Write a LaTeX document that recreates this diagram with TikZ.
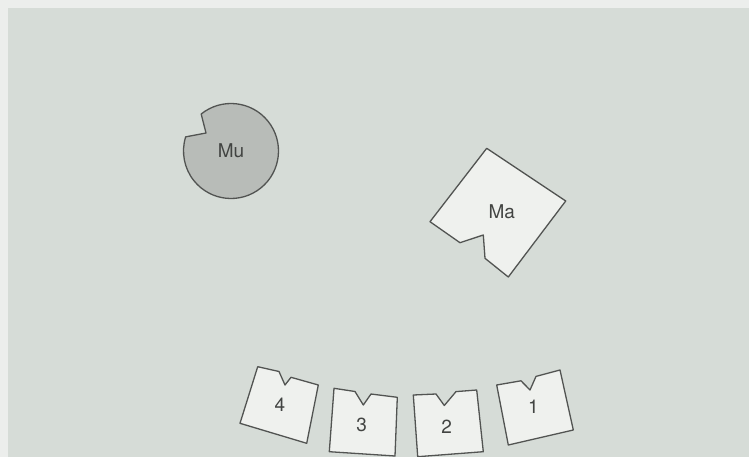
\documentclass[tikz,border=0pt]{standalone}
\usepackage{fontspec}
\setmainfont{TeX Gyre Heros}
\definecolor{bgc}{RGB}{214,220,215}
\definecolor{rimc}{RGB}{236,238,236}
\definecolor{cardc}{RGB}{239,241,238}
\definecolor{muc}{RGB}{184,188,184}
\definecolor{edgec}{RGB}{82,84,82}
\definecolor{txtc}{RGB}{66,68,66}
\begin{document}
\begin{tikzpicture}[x=1pt,y=-1pt,
  piece/.style={draw=edgec, line width=1.3pt, fill=cardc, line join=round},
  lbl/.style={font=\fontsize{19}{19}\selectfont, text=txtc, inner sep=0pt}]
\useasboundingbox (0,0) rectangle (749,457);
\fill[rimc] (0,0) rectangle (749,457);
\fill[bgc] (8,8) rectangle (749,457);
% Mu
\draw[piece, fill=muc] ([shift={(231,151)}]231.1:47.5) arc[start angle=231.1, end angle=557.3, radius=47.5] -- (206,133) -- cycle;
\node[lbl] (mu) at (231,151) {Mu};
% Ma
\draw[piece] (486.7,148.3) -- (565.7,201) -- (508.3,277) -- (485,258.3) -- (483.3,235) -- (460,242.7) -- (430,221.7) -- cycle;
\node[lbl] (ma) at (501.7,211.7) {Ma};
% cards
\draw[piece] (257.7,366.7) -- (279,371.5) -- (285,385) -- (291,377.3) -- (318.3,385) -- (306.7,443.3) -- (240,423.3) -- cycle;
\node[lbl] (c4) at (280,405) {4};
\draw[piece] (334,388.3) -- (355,391.5) -- (363.3,405) -- (371,394) -- (397.3,397.3) -- (395,456) -- (329.3,451.7) -- cycle;
\node[lbl] (c3) at (361.7,425) {3};
\draw[piece] (413.3,395) -- (436,394) -- (444.3,405.5) -- (456,391.6) -- (476.7,390) -- (483.3,451.7) -- (417.7,456.7) -- cycle;
\node[lbl] (c2) at (446.7,426.7) {2};
\draw[piece] (496.7,385) -- (521,380.8) -- (530,390) -- (536,376.4) -- (560,370) -- (573.3,430) -- (508.3,445) -- cycle;
\node[lbl] (c1) at (533.3,406.7) {1};
\end{tikzpicture}
\end{document}
